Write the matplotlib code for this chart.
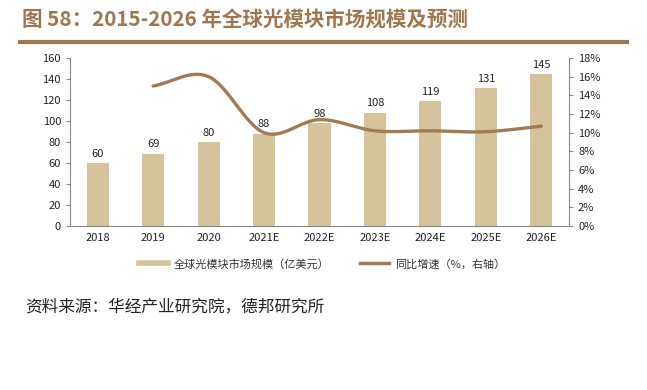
import numpy as np
import matplotlib.pyplot as plt
from matplotlib.lines import Line2D

plt.rcParams['font.family'] = ['Noto Sans CJK SC', 'DejaVu Sans']

years = ['2018', '2019', '2020', '2021E', '2022E', '2023E', '2024E', '2025E', '2026E']
market = [60, 69, 80, 88, 98, 108, 119, 131, 145]
growth = [None, 15.0, 16.0, 10.0, 11.4, 10.2, 10.2, 10.1, 10.7]

bar_color = '#D4C39B'
line_color = '#A27B55'
title_color = '#A0764E'


def catmull_rom(xs, ys, n=30):
    # smooth curve through the points, like a spreadsheet "smoothed line"
    xs = np.asarray(xs, float)
    ys = np.asarray(ys, float)
    px = np.concatenate([[2 * xs[0] - xs[1]], xs, [2 * xs[-1] - xs[-2]]])
    py = np.concatenate([[2 * ys[0] - ys[1]], ys, [2 * ys[-1] - ys[-2]]])
    outx, outy = [], []
    t = np.linspace(0, 1, n)
    for i in range(1, len(px) - 2):
        for p, out in ((px, outx), (py, outy)):
            p0, p1, p2, p3 = p[i - 1], p[i], p[i + 1], p[i + 2]
            out.extend(0.5 * ((2 * p1) + (-p0 + p2) * t
                              + (2 * p0 - 5 * p1 + 4 * p2 - p3) * t ** 2
                              + (-p0 + 3 * p1 - 3 * p2 + p3) * t ** 3))
    return np.array(outx), np.array(outy)


fig = plt.figure(figsize=(6.47, 3.9), dpi=100)
ax = fig.add_axes([70 / 647, 1 - 226 / 390, 499 / 647, 168 / 390])
x = np.arange(len(years))

bars = ax.bar(x, market, width=0.4, color=bar_color, zorder=2)
for xi, v in zip(x, market):
    ax.text(xi, v + 4, str(v), ha='center', va='bottom', fontsize=8, color='#222222')

ax.set_xlim(-0.5, len(years) - 0.5)
ax.set_ylim(0, 160)
ax.set_yticks(range(0, 161, 20))
ax.set_xticks(x)
ax.set_xticklabels(years)
ax.tick_params(axis='both', labelsize=8, colors='#222222', length=3, color='#888888')
ax.tick_params(axis='x', length=0, pad=5)
for s in ['top', 'right']:
    ax.spines[s].set_visible(False)
for s in ['left', 'bottom']:
    ax.spines[s].set_color('#888888')
    ax.spines[s].set_linewidth(0.8)

ax2 = ax.twinx()
gx = [xi for xi, g in zip(x, growth) if g is not None]
gy = [g for g in growth if g is not None]
sx, sy = catmull_rom(gx, gy)
ax2.plot(sx, sy, color=line_color, lw=2.4, solid_capstyle='round', zorder=3)
ax2.set_ylim(0, 18)
ax2.set_yticks(range(0, 19, 2))
ax2.set_yticklabels([f'{v}%' for v in range(0, 19, 2)])
ax2.tick_params(axis='y', labelsize=8, colors='#222222', length=3, color='#888888')
for s in ['top', 'left', 'bottom']:
    ax2.spines[s].set_visible(False)
ax2.spines['right'].set_color('#888888')
ax2.spines['right'].set_linewidth(0.8)

handles = [
    Line2D([0], [0], color=bar_color, lw=4),
    Line2D([0], [0], color=line_color, lw=2.5),
]
fig.legend(handles, ['全球光模块市场规模（亿美元）', '同比增速（%，右轴）'],
           loc='center', bbox_to_anchor=(322 / 647, 1 - 264 / 390), ncol=2,
           frameon=False, fontsize=8, handlelength=2.6, handletextpad=0.5,
           columnspacing=2.8, labelcolor='#333333')

fig.text(22 / 647, 1 - 20 / 390, '图 58：2015-2026 年全球光模块市场规模及预测',
         fontsize=14.8, fontweight='bold', color=title_color, va='center')
fig.add_artist(Line2D([20 / 647, 627 / 647], [1 - 42 / 390, 1 - 42 / 390],
                      color=title_color, lw=3))
fig.text(25 / 647, 1 - 307 / 390, '资料来源：华经产业研究院，德邦研究所',
         fontsize=12, color='#222222', va='center')

fig.savefig('out.png', dpi=100)
